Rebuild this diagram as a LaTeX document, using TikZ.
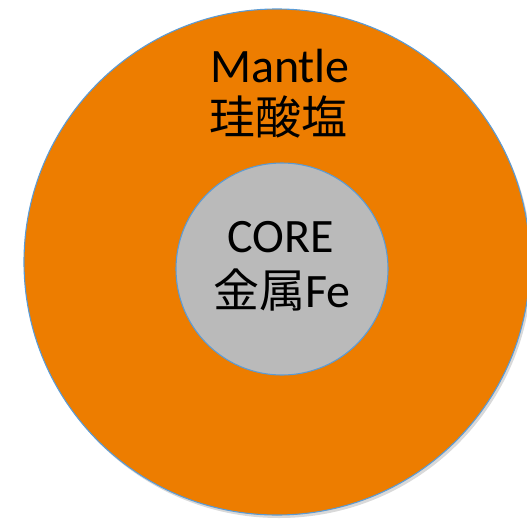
\documentclass[tikz,border=0pt]{standalone}
\usepackage{fontspec}
\setmainfont{Carlito}
\newfontfamily\cjk{Noto Sans CJK JP}
\usetikzlibrary{shadows}
\definecolor{mantleorange}{RGB}{237,125,0}
\definecolor{coregray}{RGB}{186,186,186}
\definecolor{rimblue}{RGB}{91,155,213}
\tikzset{
  layer/.style={draw=rimblue,line width=1.1pt,circle,inner sep=0pt},
  word/.style={anchor=base,inner sep=0pt,font=\fontsize{48}{48}\selectfont},
  kanji/.style={anchor=base,inner sep=0pt,font=\fontsize{46}{46}\selectfont\cjk}
}
\begin{document}
\begin{tikzpicture}[x=1pt,y=-1pt]
\useasboundingbox (0,0) rectangle (527,522);
% Mantello e nucleo
\node[layer,fill=mantleorange,minimum size=506pt,
      drop shadow={shadow xshift=2pt,shadow yshift=-3pt,opacity=.3}] (mantle) at (277,262) {};
\node[layer,fill=coregray,minimum size=212pt] (core) at (282,269) {};

% Testi
\node[word] (mantlename) at (280,82) {Mantle};
\node[kanji] (mantlechem) at (278,134) {珪酸塩};
\node[word] (corename) at (281,252) {CORE};
\node[kanji] (corechem) at (282,307) {金属{\rmfamily\fontsize{48}{48}\selectfont Fe}};
\end{tikzpicture}
\end{document}
